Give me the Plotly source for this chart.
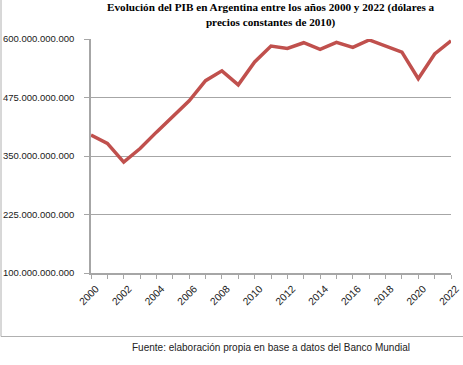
import plotly.graph_objects as go

years = list(range(2000, 2023))
pib = [395e9, 377e9, 337e9, 366e9, 401e9, 435e9, 468e9, 511e9, 532e9, 502e9,
       551e9, 585e9, 580e9, 592e9, 578e9, 593e9, 582e9, 598e9, 584e9, 572e9,
       515e9, 568e9, 596e9]
y_ticks = [100e9, 225e9, 350e9, 475e9, 600e9]
x_ticks = list(range(2000, 2023, 2))

title_text = "Evolución del PIB en Argentina entre los años 2000 y 2022 (dólares a<br>precios constantes de 2010)"
source_text = "Fuente: elaboración propia en base a datos del Banco Mundial"

W, H = 463, 365
ML, MR, MT, MB = 91, 12, 39, 92

fig = go.Figure()
fig.add_trace(go.Scatter(x=years, y=pib, mode="lines",
                         line=dict(color="#C0504D", width=3.5), hoverinfo="skip"))

fig.update_layout(
    width=W, height=H,
    margin=dict(l=ML, r=MR, t=MT, b=MB, autoexpand=False),
    paper_bgcolor="white", plot_bgcolor="white",
    separators=",.",
    showlegend=False,
    font=dict(family="Liberation Sans", size=10, color="black"),
)
fig.update_xaxes(range=[2000, 2022], tickvals=x_ticks, tickangle=-45, automargin=False,
                 showgrid=False, showline=True, linecolor="#a6a6a6", linewidth=1.5,
                 ticks="outside", ticklen=4, tickcolor="#a6a6a6", ticklabelshift=5,
                 minor=dict(dtick=1, tick0=2000, ticks="outside", ticklen=4, tickcolor="#a6a6a6", showgrid=False),
                 tickfont=dict(size=10.3, color="#1a1a1a"), zeroline=False)
fig.update_yaxes(range=[100e9, 600e9], tickvals=y_ticks, tickformat=",d", automargin=False,
                 showgrid=True, gridcolor="#a6a6a6", gridwidth=1,
                 showline=True, linecolor="#a6a6a6", linewidth=1.5,
                 ticks="outside", ticklen=5, tickcolor="#a6a6a6", ticklabelstandoff=8,
                 tickfont=dict(size=9.5, color="#1a1a1a"), zeroline=False)

pw = W - ML - MR
ph = H - MT - MB
def px_x(v):
    return (v - ML) / pw
def px_y(v):
    return (H - MB - v) / ph

# outer frame (left and bottom border)
fig.add_shape(type="line", xref="paper", yref="paper",
              x0=px_x(1), x1=px_x(1), y0=px_y(-5), y1=px_y(336.5),
              line=dict(color="#b0b0b0", width=1))
fig.add_shape(type="line", xref="paper", yref="paper",
              x0=px_x(1), x1=px_x(470), y0=px_y(336.5), y1=px_y(336.5),
              line=dict(color="#b0b0b0", width=1))

fig.add_annotation(text=title_text, xref="paper", yref="paper",
                   x=px_x(271), y=px_y(15), xanchor="center", yanchor="middle",
                   showarrow=False,
                   font=dict(family="Liberation Serif", size=11.2, color="black", weight="bold"))
fig.add_annotation(text=source_text, xref="paper", yref="paper",
                   x=px_x(271), y=px_y(347), xanchor="center", yanchor="middle",
                   showarrow=False, font=dict(family="Liberation Sans", size=10, color="#222222"))

fig.write_html("out.html", config={"displayModeBar": False},
               post_script="document.body.style.margin='0';")
